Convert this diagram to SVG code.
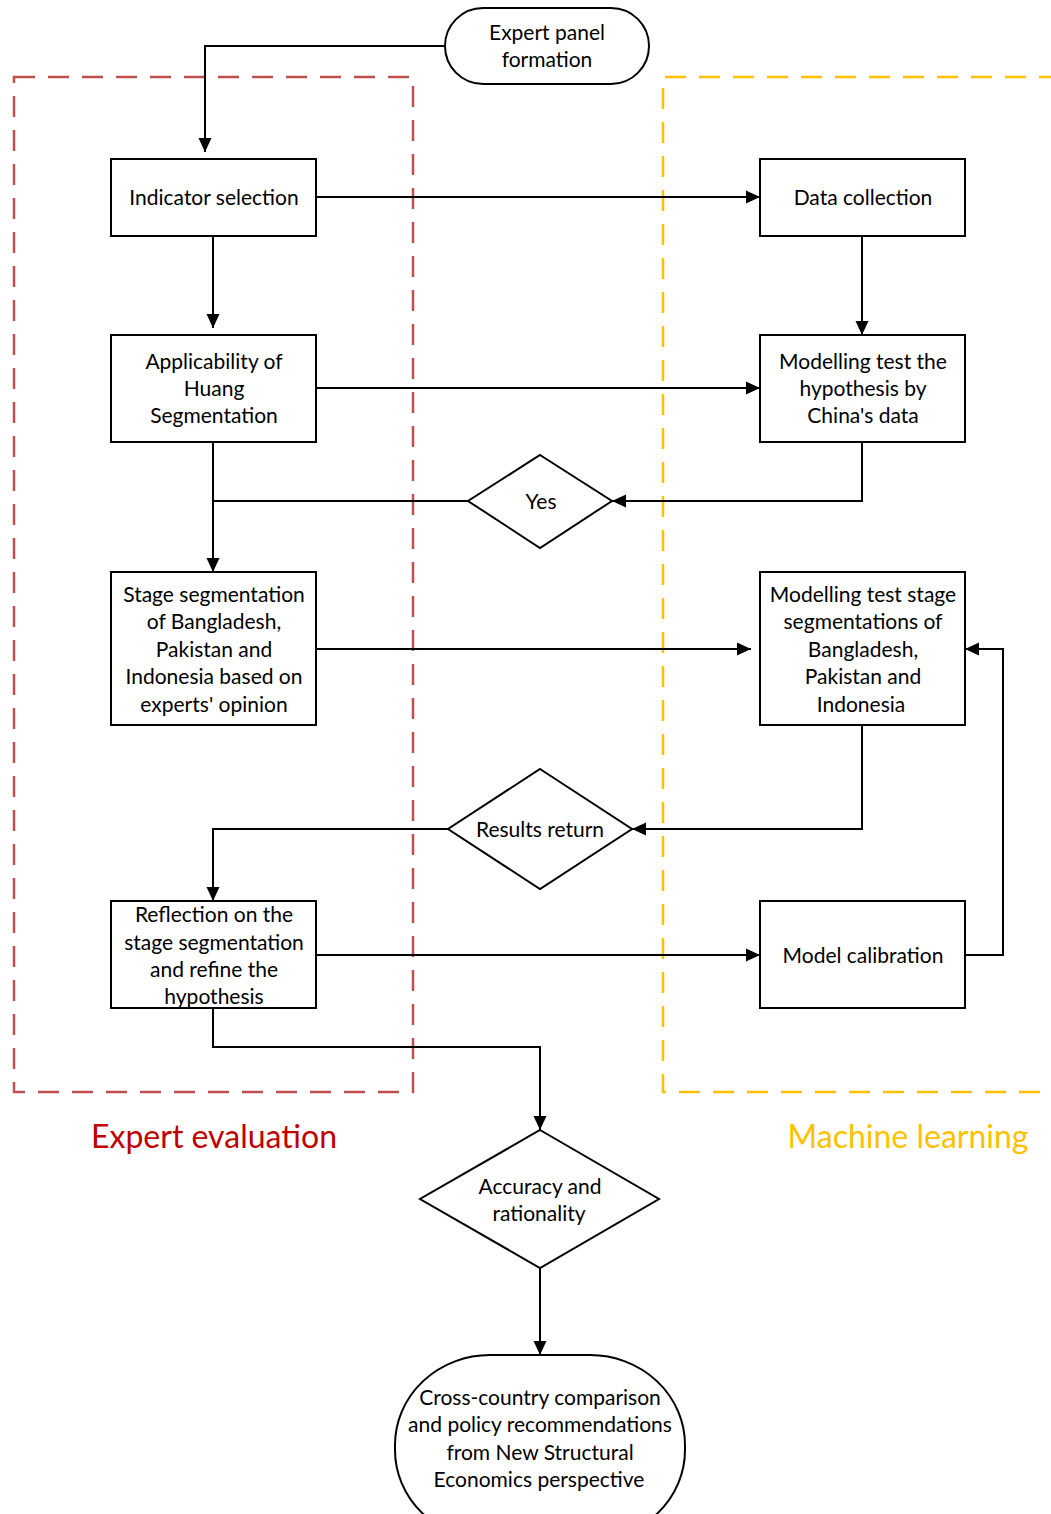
<svg xmlns="http://www.w3.org/2000/svg" width="1051" height="1514" viewBox="0 0 1051 1514">
<style>
.n{fill:#fff;stroke:#000;stroke-width:2}
.t{font-family:Lato,"Liberation Sans",sans-serif;font-size:21px;fill:#000;text-anchor:middle}
.c{fill:none;stroke:#000;stroke-width:2}
.big{font-family:Lato,"Liberation Sans",sans-serif;font-size:32px;text-anchor:middle}
</style>
<defs>
<marker id="a" viewBox="0 0 14 14" refX="14" refY="7" markerWidth="14" markerHeight="14" markerUnits="userSpaceOnUse" orient="auto">
<path d="M0,0.5 L14,7 L0,13.5 Z" fill="#000"/>
</marker>
</defs>
<rect width="1051" height="1514" fill="#fff"/>
<g id="groups">
<rect x="14" y="77" width="399" height="1015" fill="none" stroke="#C0504D" stroke-width="2.5" stroke-dasharray="21 13"/>
<path d="M1060,77 H663 V1092 H1060" fill="none" stroke="#FFC000" stroke-width="2.5" stroke-dasharray="21 13"/>
<text class="big" x="214" y="1148" fill="#C00000">Expert evaluation</text>
<text class="big" x="908" y="1148" fill="#FFC000">Machine learning</text>
</g>
<g id="connectors">
<path class="c" d="M445,46 H205 V152" marker-end="url(#a)"/>
<path class="c" d="M316,197 H760" marker-end="url(#a)"/>
<path class="c" d="M213,236 V328" marker-end="url(#a)"/>
<path class="c" d="M862,236 V335" marker-end="url(#a)"/>
<path class="c" d="M316,388 H760" marker-end="url(#a)"/>
<path class="c" d="M862,442 V501 H612" marker-end="url(#a)"/>
<path class="c" d="M468,501 H213"/>
<path class="c" d="M213,442 V572" marker-end="url(#a)"/>
<path class="c" d="M316,649 H751" marker-end="url(#a)"/>
<path class="c" d="M862,725 V829 H632" marker-end="url(#a)"/>
<path class="c" d="M448,829 H213 V901" marker-end="url(#a)"/>
<path class="c" d="M316,955 H760" marker-end="url(#a)"/>
<path class="c" d="M965,955 H1003 V649 H965" marker-end="url(#a)"/>
<path class="c" d="M213,1008 V1047 H540 V1130" marker-end="url(#a)"/>
<path class="c" d="M540,1268 V1355" marker-end="url(#a)"/>
</g>
<g id="expert-panel">
<rect class="n" x="445" y="8" width="204" height="76" rx="38"/>
<text class="t" x="547" y="40">Expert panel</text>
<text class="t" x="547" y="67">formation</text>
</g>
<g id="indicator-selection">
<rect class="n" x="111" y="159" width="205" height="77"/>
<text class="t" x="214" y="205">Indicator selection</text>
</g>
<g id="data-collection">
<rect class="n" x="760" y="159" width="205" height="77"/>
<text class="t" x="863" y="205">Data collection</text>
</g>
<g id="applicability">
<rect class="n" x="111" y="335" width="205" height="107"/>
<text class="t" x="214" y="369">Applicability of</text>
<text class="t" x="214" y="396">Huang</text>
<text class="t" x="214" y="423">Segmentation</text>
</g>
<g id="modelling-hypothesis">
<rect class="n" x="760" y="335" width="205" height="107"/>
<text class="t" x="863" y="369">Modelling test the</text>
<text class="t" x="863" y="396">hypothesis by</text>
<text class="t" x="863" y="423">China's data</text>
</g>
<g id="yes">
<path class="n" d="M540,455 L612,501 L540,548 L468,501 Z"/>
<text class="t" x="541" y="509">Yes</text>
</g>
<g id="stage-segmentation">
<rect class="n" x="111" y="572" width="205" height="153"/>
<text class="t" x="214" y="602">Stage segmentation</text>
<text class="t" x="214" y="629">of Bangladesh,</text>
<text class="t" x="214" y="657">Pakistan and</text>
<text class="t" x="214" y="684">Indonesia based on</text>
<text class="t" x="214" y="712">experts' opinion</text>
</g>
<g id="modelling-stage">
<rect class="n" x="760" y="572" width="205" height="153"/>
<text class="t" x="863" y="602">Modelling test stage</text>
<text class="t" x="863" y="629">segmentations of</text>
<text class="t" x="863" y="657">Bangladesh,</text>
<text class="t" x="863" y="684">Pakistan and</text>
<text class="t" x="861" y="712">Indonesia</text>
</g>
<g id="results-return">
<path class="n" d="M540,769 L632,829 L540,889 L448,829 Z"/>
<text class="t" x="540" y="837">Results return</text>
</g>
<g id="reflection">
<rect class="n" x="111" y="901" width="205" height="107"/>
<text class="t" x="214" y="922">Reflection on the</text>
<text class="t" x="214" y="950">stage segmentation</text>
<text class="t" x="214" y="977">and refine the</text>
<text class="t" x="214" y="1004">hypothesis</text>
</g>
<g id="model-calibration">
<rect class="n" x="760" y="901" width="205" height="107"/>
<text class="t" x="863" y="963">Model calibration</text>
</g>
<g id="accuracy">
<path class="n" d="M540,1130 L659,1199 L540,1268 L420,1199 Z"/>
<text class="t" x="540" y="1194">Accuracy and</text>
<text class="t" x="539" y="1221">rationality</text>
</g>
<g id="cross-country">
<rect class="n" x="395" y="1355" width="290" height="185" rx="95" ry="90"/>
<text class="t" x="540" y="1405">Cross-country comparison</text>
<text class="t" x="540" y="1432">and policy recommendations</text>
<text class="t" x="540" y="1460">from New Structural</text>
<text class="t" x="539" y="1487">Economics perspective</text>
</g>
</svg>
